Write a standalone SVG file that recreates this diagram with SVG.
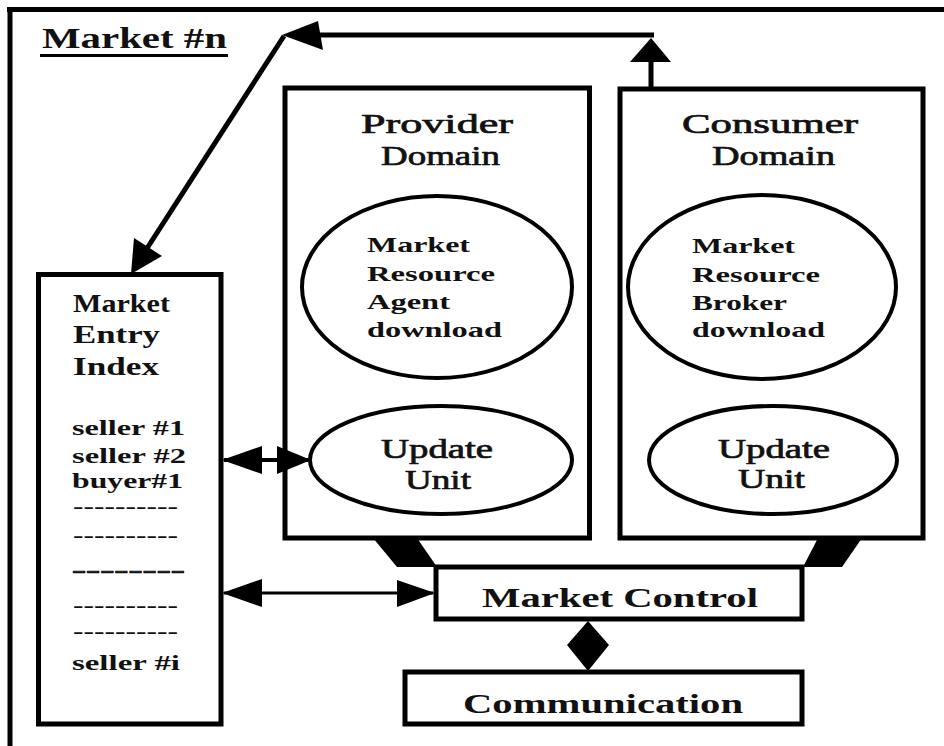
<svg xmlns="http://www.w3.org/2000/svg" width="944" height="746" viewBox="0 0 944 746">
<style>
.box{fill:#fff;stroke:#000;stroke-width:5}
.ell{fill:#fff;stroke:#000;stroke-width:4}
.t{font-family:'Liberation Serif','DejaVu Serif',serif;fill:#111}
.b{font-weight:bold}
.m{stroke:#111;stroke-width:0.7}
.ln{stroke:#000;fill:none}
.hd{fill:#000;stroke:none}
</style>
<rect width="944" height="746" fill="#fff"/>
<g id="frame">
<line x1="7" y1="9.5" x2="944" y2="9.5" stroke="#000" stroke-width="5"/>
<line x1="10" y1="7" x2="10" y2="746" stroke="#000" stroke-width="5"/>
</g>
<g id="title">
<text class="t b" x="42" y="48" font-size="29" textLength="185" lengthAdjust="spacingAndGlyphs">Market #n</text>
<line x1="40" y1="55.5" x2="228" y2="55.5" stroke="#000" stroke-width="3"/>
</g>
<g id="market-entry-index">
<rect class="box" x="38.5" y="274.5" width="182.5" height="449.5"/>
<g class="t b" font-size="25">
<text x="73" y="312" textLength="97" lengthAdjust="spacingAndGlyphs">Market</text>
<text x="73" y="343" textLength="87" lengthAdjust="spacingAndGlyphs">Entry</text>
<text x="73" y="375" textLength="86" lengthAdjust="spacingAndGlyphs">Index</text>
</g>
<g class="t b" font-size="21">
<text x="72" y="435" textLength="113" lengthAdjust="spacingAndGlyphs">seller #1</text>
<text x="72" y="463" textLength="114" lengthAdjust="spacingAndGlyphs">seller #2</text>
<text x="72" y="488" textLength="111" lengthAdjust="spacingAndGlyphs">buyer#1</text>
<text x="73" y="513" textLength="105" lengthAdjust="spacingAndGlyphs">----------</text>
<text x="73" y="542" textLength="105" lengthAdjust="spacingAndGlyphs">----------</text>
<text x="72" y="577" textLength="113" lengthAdjust="spacingAndGlyphs" class="m">--------</text>
<text x="73" y="612" textLength="105" lengthAdjust="spacingAndGlyphs">----------</text>
<text x="73" y="638" textLength="105" lengthAdjust="spacingAndGlyphs">----------</text>
<text x="72" y="670" textLength="108" lengthAdjust="spacingAndGlyphs">seller #i</text>
</g>
</g>
<g id="provider-domain">
<rect class="box" x="285" y="88" width="304.5" height="450"/>
<text class="t m" x="361" y="133" font-size="28" textLength="152" lengthAdjust="spacingAndGlyphs">Provider</text>
<text class="t m" x="381" y="165" font-size="28" textLength="119" lengthAdjust="spacingAndGlyphs">Domain</text>
</g>
<g id="provider-mra">
<ellipse class="ell" cx="437" cy="287" rx="135" ry="91"/>
<g class="t b" font-size="22">
<text x="367" y="252" textLength="103" lengthAdjust="spacingAndGlyphs">Market</text>
<text x="367" y="281" textLength="128" lengthAdjust="spacingAndGlyphs">Resource</text>
<text x="367" y="309" textLength="83" lengthAdjust="spacingAndGlyphs">Agent</text>
<text x="367" y="337" textLength="135" lengthAdjust="spacingAndGlyphs">download</text>
</g>
</g>
<g id="provider-update">
<ellipse class="ell" cx="441" cy="460" rx="131" ry="54"/>
<text class="t m" x="381" y="458" font-size="27" textLength="112" lengthAdjust="spacingAndGlyphs">Update</text>
<text class="t m" x="405" y="489" font-size="27" textLength="66" lengthAdjust="spacingAndGlyphs">Unit</text>
</g>
<g id="consumer-domain">
<rect class="box" x="620" y="89" width="303" height="449"/>
<text class="t m" x="682" y="133" font-size="28" textLength="176" lengthAdjust="spacingAndGlyphs">Consumer</text>
<text class="t m" x="712" y="165" font-size="28" textLength="123" lengthAdjust="spacingAndGlyphs">Domain</text>
</g>
<g id="consumer-mrb">
<ellipse class="ell" cx="762" cy="287" rx="134" ry="92"/>
<g class="t b" font-size="22">
<text x="692" y="253" textLength="103" lengthAdjust="spacingAndGlyphs">Market</text>
<text x="692" y="282" textLength="128" lengthAdjust="spacingAndGlyphs">Resource</text>
<text x="692" y="310" textLength="95" lengthAdjust="spacingAndGlyphs">Broker</text>
<text x="692" y="337" textLength="133" lengthAdjust="spacingAndGlyphs">download</text>
</g>
</g>
<g id="consumer-update">
<ellipse class="ell" cx="773" cy="460" rx="124" ry="54"/>
<text class="t m" x="718" y="458" font-size="27" textLength="112" lengthAdjust="spacingAndGlyphs">Update</text>
<text class="t m" x="738" y="488" font-size="27" textLength="67" lengthAdjust="spacingAndGlyphs">Unit</text>
</g>
<g id="market-control">
<rect class="box" x="436" y="567" width="366" height="52"/>
<text class="t b" x="482" y="607" font-size="27" textLength="276" lengthAdjust="spacingAndGlyphs">Market Control</text>
</g>
<g id="communication">
<rect class="box" x="405" y="672" width="397" height="52"/>
<text class="t b" x="463" y="713" font-size="27" textLength="280" lengthAdjust="spacingAndGlyphs">Communication</text>
</g>
<g id="connectors">
<line class="ln" x1="651" y1="89" x2="651" y2="58" stroke-width="5"/>
<polygon class="hd" points="630,62 671,62 651,38"/>
<line class="ln" x1="300" y1="35" x2="654" y2="35" stroke-width="5"/>
<polygon class="hd" points="282,35 318,21 323,50"/>
<line class="ln" x1="284" y1="36" x2="142" y2="256" stroke-width="5"/>
<polygon class="hd" points="131,274 162,256 134,238"/>
<line class="ln" x1="224" y1="460" x2="308" y2="460" stroke-width="4"/>
<polygon class="hd" points="222,460 262,446 262,474"/>
<polygon class="hd" points="311,460 277,446 277,474"/>
<line class="ln" x1="224" y1="593" x2="433" y2="593" stroke-width="3"/>
<polygon class="hd" points="222,593 262,579 262,607"/>
<polygon class="hd" points="435,593 397,580 397,607"/>
<polygon class="hd" points="588,621 609,645 588,671 567,645"/>
<polygon class="hd" points="373,538 417,538 437,567 397,567"/>
<polygon class="hd" points="818,538 862,538 842,567 803,567"/>
</g>
</svg>
